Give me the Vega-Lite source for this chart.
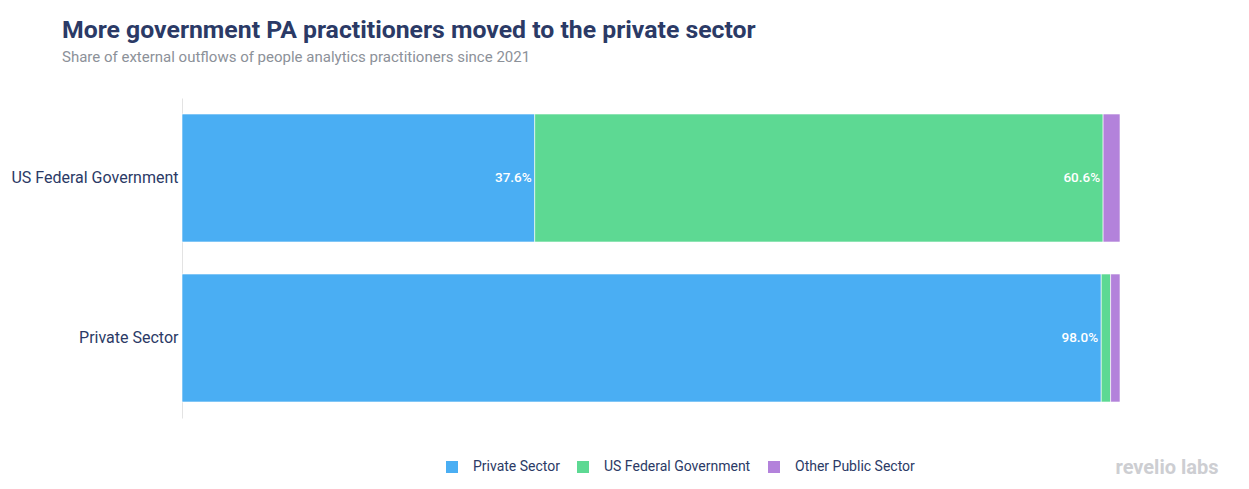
{
  "$schema": "https://vega.github.io/schema/vega-lite/v6.json",
  "width": 938,
  "height": 320,
  "autosize": "none",
  "padding": {"left": 182, "top": 98, "right": 129, "bottom": 71},
  "background": "white",
  "config": {"font": "Roboto", "view": {"stroke": null}},
  "title": {
    "text": "More government PA practitioners moved to the private sector",
    "subtitle": "Share of external outflows of people analytics practitioners since 2021",
    "anchor": "start",
    "frame": "group",
    "dx": -120,
    "offset": 33,
    "font": "Roboto",
    "fontSize": 24.8,
    "fontWeight": "bold",
    "color": "#2b3a66",
    "subtitleFont": "Roboto",
    "subtitleFontSize": 15,
    "subtitleColor": "#8c9199",
    "subtitlePadding": 7
  },
  "data": {
    "values": [
      {"group": "US Federal Government", "dest": "Private Sector", "rank": 1, "value": 37.6},
      {"group": "US Federal Government", "dest": "US Federal Government", "rank": 2, "value": 60.6},
      {"group": "US Federal Government", "dest": "Other Public Sector", "rank": 3, "value": 1.8},
      {"group": "Private Sector", "dest": "Private Sector", "rank": 1, "value": 98.0},
      {"group": "Private Sector", "dest": "US Federal Government", "rank": 2, "value": 1.0},
      {"group": "Private Sector", "dest": "Other Public Sector", "rank": 3, "value": 1.0}
    ]
  },
  "transform": [
    {"stack": "value", "groupby": ["group"], "sort": [{"field": "rank", "order": "ascending"}], "as": ["start", "end"]},
    {"calculate": "format(datum.value, '.1f') + '%'", "as": "label"}
  ],
  "encoding": {
    "y": {
      "field": "group",
      "type": "nominal",
      "sort": ["US Federal Government", "Private Sector"],
      "scale": {"paddingInner": 0.2, "paddingOuter": 0.1},
      "axis": {
        "title": null,
        "ticks": false,
        "labelFontSize": 16,
        "labelColor": "#2b3a66",
        "labelPadding": 4,
        "domainColor": "#e3e3e3",
        "domainWidth": 1
      }
    }
  },
  "layer": [
    {
      "mark": {"type": "bar", "stroke": "white", "strokeWidth": 0.6},
      "encoding": {
        "x": {
          "field": "start",
          "type": "quantitative",
          "scale": {"domain": [0, 100], "nice": false},
          "axis": {
            "domain": false,
            "ticks": false,
            "labels": false,
            "grid": false,
            "title": "revelio labs",
            "titleX": 933,
            "titleY": 49,
            "titleAlign": "left",
            "titleBaseline": "middle",
            "titleFont": "Roboto",
            "titleFontSize": 20,
            "titleFontWeight": "bold",
            "titleColor": "#cdced2"
          }
        },
        "x2": {"field": "end"},
        "color": {
          "field": "dest",
          "type": "nominal",
          "scale": {
            "domain": ["Private Sector", "US Federal Government", "Other Public Sector"],
            "range": ["#4aaef3", "#5dd993", "#b382db"]
          },
          "legend": {
            "title": null,
            "orient": "none",
            "direction": "horizontal",
            "legendX": 263,
            "legendY": 362,
            "symbolType": "square",
            "symbolSize": 144,
            "symbolStrokeWidth": 0,
            "labelFontSize": 14,
            "labelColor": "#2b3a66",
            "labelOffset": 14,
            "columnPadding": 16
          }
        }
      }
    },
    {
      "transform": [{"filter": "datum.value > 5"}],
      "mark": {"type": "text", "align": "right", "baseline": "middle", "dx": -3, "color": "white", "fontSize": 13.5, "fontWeight": 500},
      "encoding": {
        "x": {"field": "end", "type": "quantitative"},
        "text": {"field": "label", "type": "nominal"}
      }
    }
  ]
}
